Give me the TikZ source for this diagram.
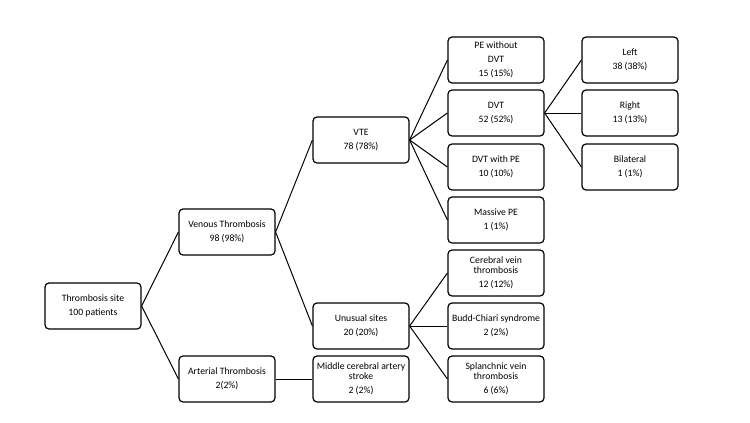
\documentclass[tikz,border=0pt]{standalone}
\usepackage{fontspec}
\setmainfont{Carlito}
\begin{document}
\begin{tikzpicture}[x=0.75pt,y=-0.75pt,
  box/.style={draw,line width=0.9pt,rounded corners=3pt,minimum width=72pt,minimum height=34.5pt,inner sep=0pt,align=center,font=\fontsize{7.3}{10.6}\selectfont},
  conn/.style={line width=0.75pt}]
\useasboundingbox (0,0) rectangle (750,422);
\node[box] (ts) at (93,306) {Thrombosis site\\100 patients};
\node[box] (vt) at (227,232) {Venous Thrombosis\\98 (98\%)};
\node[box] (at) at (227,379) {Arterial Thrombosis\\2(2\%)};
\node[box] (vte) at (361,140) {VTE\\78 (78\%)};
\node[box] (us) at (361,326) {Unusual sites\\20 (20\%)};
\node[box] (mca) at (361,379) {Middle cerebral artery\\[-3.4pt]stroke\\2 (2\%)};
\node[box] (pe) at (496,60) {PE without\\DVT\\15 (15\%)};
\node[box] (dvt) at (496,113) {DVT\\52 (52\%)};
\node[box] (dpe) at (496,167) {DVT with PE\\10 (10\%)};
\node[box] (mpe) at (496,220) {Massive PE\\1 (1\%)};
\node[box] (cvt) at (496,273) {Cerebral vein\\[-3.4pt]thrombosis\\12 (12\%)};
\node[box] (bc) at (496,326) {Budd-Chiari syndrome\\2 (2\%)};
\node[box] (svt) at (496,379) {Splanchnic vein\\[-3.4pt]thrombosis\\6 (6\%)};
\node[box] (l) at (630,60) {Left\\38 (38\%)};
\node[box] (r) at (630,113) {Right\\13 (13\%)};
\node[box] (b) at (630,167) {Bilateral\\1 (1\%)};
\foreach \a/\b in {ts/vt,ts/at,vt/vte,vt/us,at/mca,vte/pe,vte/dvt,vte/dpe,vte/mpe,us/cvt,us/bc,us/svt,dvt/l,dvt/r,dvt/b}
  \draw[conn] (\a.east) -- (\b.west);
\end{tikzpicture}
\end{document}
